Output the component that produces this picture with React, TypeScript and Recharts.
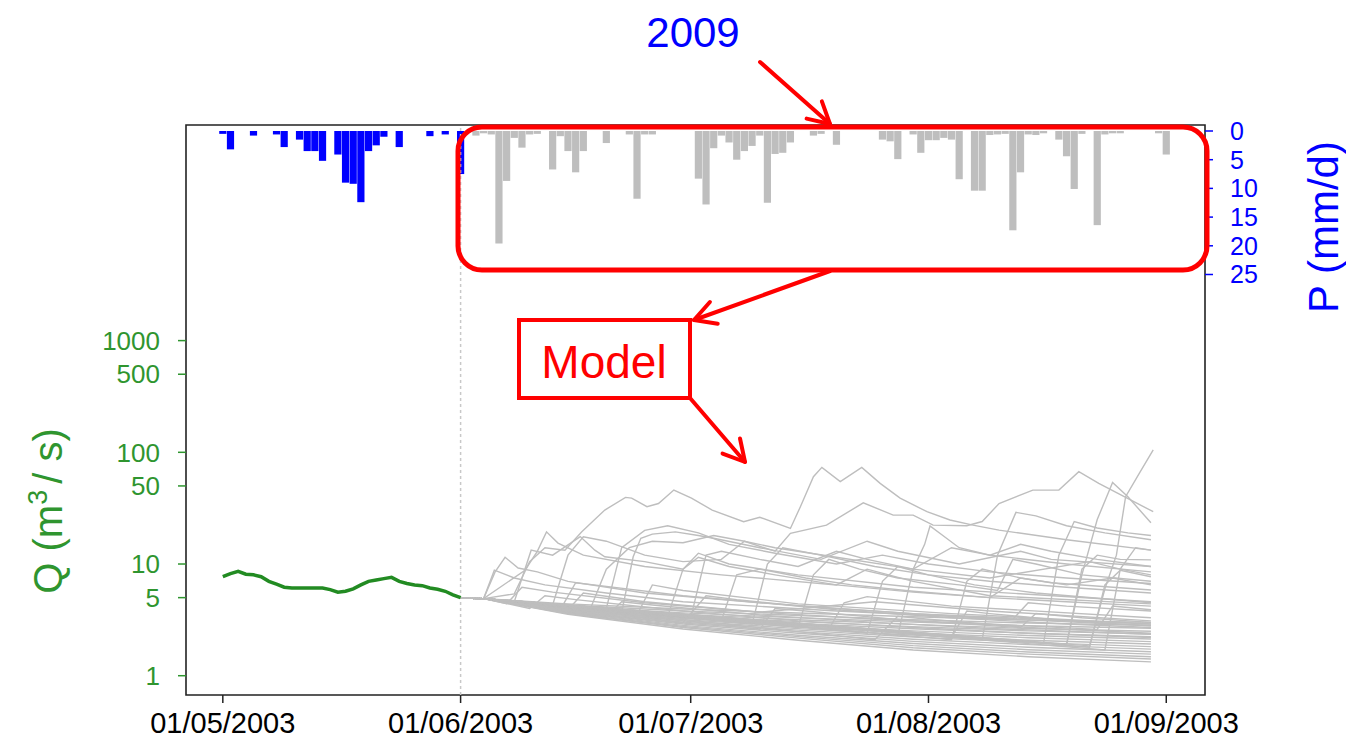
import React from 'react';
import { ComposedChart, Bar, Line, XAxis, YAxis, Cell, ReferenceLine, ReferenceArea } from 'recharts';

// x axis: days since 01/05/2003
const dateTicks = [0, 31, 61, 92, 123];
const dateLabels = ['01/05/2003', '01/06/2003', '01/07/2003', '01/08/2003', '01/09/2003'];
const qTicks = [1, 5, 10, 50, 100, 500, 1000];
const pTicks = [0, 5, 10, 15, 20, 25];

// observed rainfall, May 1 .. June 1 (mm/d)
const precipObserved = [
  0.5, 3.2, 0, 0, 0.8, 0, 0, 0.6, 2.8, 0, 1.5, 3.5, 3.5, 5.2, 0, 4.1,
  9.0, 9.2, 12.4, 3.5, 2.5, 1.0, 0, 2.8, 0, 0, 0, 0.9, 0, 0.6, 0, 7.5,
];

// 2009 rainfall used for the forecast, June 2 .. Sep 1 (mm/d)
const precip2009 = [
  0, 0.8, 0.4, 0.6, 19.6, 8.7, 1.2, 2.9, 0.6, 0.5, 0, 6.7, 0.9, 3.5, 7.2, 3.5,
  0, 0, 2.1, 0, 0, 0.6, 11.8, 0.6, 0.6, 0, 0, 0, 0, 0, 8.3, 12.8,
  3.0, 0.8, 2.0, 5.0, 3.5, 2.6, 0.8, 12.5, 4.0, 3.8, 2.0, 0, 0, 0.8, 0.5, 0,
  2.4, 0, 0, 0, 0, 0, 1.5, 1.8, 4.9, 0, 0.6, 3.8, 1.6, 1.6, 1.2, 1.5,
  8.4, 0, 10.4, 10.4, 0.7, 0.6, 0.5, 17.3, 7.2, 0.6, 0.7, 0.4, 0, 1.5, 4.4, 10.1,
  0.5, 0, 16.4, 0.6, 0.4, 0.4, 0, 0, 0, 0, 0.4, 4.1,
];

// observed discharge, May 1 .. June 1 (m3/s)
const observedQ = [
  7.7, 8.2, 8.6, 8.1, 8.0, 7.7, 7.0, 6.6, 6.2, 6.1, 6.1, 6.1, 6.1, 6.1, 5.9, 5.6,
  5.7, 6.0, 6.5, 7.0, 7.2, 7.4, 7.6, 7.0, 6.7, 6.5, 6.4, 6.1, 5.95, 5.7, 5.3, 5.0,
];

// model runs: [day, Q] points
const recessionRuns: number[][][] = [
  [[31, 4.95], [34, 4.9], [45, 3.55], [60, 2.62], [75, 2.08], [90, 1.7], [105, 1.48], [121, 1.33]],
  [[31, 4.95], [34, 4.9], [45, 3.6], [60, 2.7], [75, 2.17], [90, 1.78], [105, 1.56], [121, 1.41]],
  [[31, 4.95], [34, 4.9], [45, 3.62], [60, 2.76], [75, 2.24], [90, 1.86], [105, 1.63], [121, 1.48]],
  [[31, 4.95], [34, 4.9], [45, 3.68], [60, 2.82], [75, 2.3], [90, 1.94], [105, 1.71], [121, 1.56]],
  [[31, 4.95], [34, 4.9], [45, 3.72], [60, 2.9], [75, 2.4], [90, 2.03], [105, 1.8], [121, 1.64]],
  [[31, 4.95], [34, 4.9], [45, 3.76], [60, 2.96], [75, 2.48], [90, 2.12], [105, 1.9], [121, 1.73]],
  [[31, 4.95], [34, 4.9], [45, 3.8], [60, 3.02], [75, 2.56], [90, 2.22], [105, 1.99], [121, 1.82]],
  [[31, 4.95], [34, 4.9], [45, 3.85], [60, 3.1], [75, 2.64], [90, 2.31], [105, 2.08], [121, 1.92]],
  [[31, 4.95], [34, 4.9], [45, 3.9], [60, 3.18], [75, 2.74], [90, 2.42], [105, 2.19], [121, 2.02]],
  [[31, 4.95], [34, 4.9], [45, 3.95], [60, 3.25], [75, 2.84], [90, 2.52], [105, 2.29], [121, 2.13]],
  [[31, 4.95], [34, 4.9], [45, 4.0], [60, 3.34], [75, 2.94], [90, 2.63], [105, 2.4], [121, 2.24]],
  [[31, 4.95], [34, 4.9], [45, 4.06], [60, 3.44], [75, 3.05], [90, 2.75], [105, 2.52], [121, 2.36]],
  [[31, 4.95], [34, 4.9], [45, 4.12], [60, 3.54], [75, 3.17], [90, 2.88], [105, 2.65], [121, 2.5]],
  [[31, 4.95], [34, 4.9], [45, 4.2], [60, 3.65], [75, 3.3], [90, 3.02], [105, 2.8], [121, 2.66]],
  [[31, 4.95], [34, 4.9], [45, 4.3], [60, 3.8], [75, 3.46], [90, 3.18], [105, 2.96], [121, 2.82]],
  [[31, 4.95], [34, 4.9], [45, 4.4], [60, 3.96], [75, 3.64], [90, 3.37], [105, 3.15], [121, 3.0]],
];

const smallEventRuns: number[][][] = [
  [[31, 4.95], [34, 4.9], [40, 4.0], [42, 5.2], [46, 4.8], [60, 3.8], [75, 3.1], [90, 2.7], [105, 2.4], [121, 2.2]],
  [[31, 4.95], [34, 4.9], [50, 3.4], [52, 4.6], [56, 4.3], [70, 3.5], [85, 3.0], [100, 2.65], [121, 2.35]],
  [[31, 4.95], [34, 4.9], [60, 3.0], [63, 5.2], [67, 4.8], [80, 3.9], [95, 3.3], [110, 2.9], [121, 2.7]],
  [[31, 4.95], [34, 4.9], [70, 2.6], [72, 4.0], [76, 3.8], [90, 3.1], [104, 2.7], [106, 3.6], [112, 3.3], [121, 3.0]],
  [[31, 4.95], [34, 4.9], [85, 2.1], [88, 3.4], [92, 3.2], [105, 2.7], [121, 2.4]],
  [[31, 4.95], [34, 4.9], [95, 2.2], [97, 3.8], [100, 3.6], [110, 3.1], [121, 2.8]],
  [[31, 4.95], [34, 4.9], [37, 4.4], [39, 6.2], [43, 5.6], [55, 4.5], [70, 3.7], [85, 3.2], [100, 2.9], [114, 2.6], [116, 4.2], [121, 3.9]],
  [[31, 4.95], [34, 4.9], [44, 3.9], [46, 6.8], [50, 6.3], [60, 5.2], [75, 4.2], [90, 3.6], [103, 3.2], [105, 4.5], [110, 4.2], [121, 3.8]],
  [[31, 4.95], [34, 4.9], [54, 3.5], [56, 6.5], [60, 5.8], [75, 4.4], [95, 3.6], [121, 2.9]],
  [[31, 4.95], [34, 4.9], [45, 3.9], [47, 5.5], [55, 4.6], [70, 3.7], [85, 4.6], [100, 3.8], [121, 3.1]],
  [[31, 4.95], [34, 4.9], [79, 2.6], [81, 4.5], [84, 5.1], [95, 4.2], [121, 3.3]],
];

const stormRuns: number[][][] = [
  [[31, 4.95], [34, 4.9], [35.5, 8.5], [36.8, 11.5], [38.5, 9.2], [41, 8.5], [45, 7], [55, 5.5], [70, 4.5], [90, 3.6], [121, 2.9]],
  [[31, 4.95], [34, 4.9], [39.4, 8.8], [41, 13], [42.2, 19.4], [43.7, 15.4], [47, 12], [55, 9.5], [65, 8], [80, 6.5], [84, 9], [90, 7], [100, 5.2], [121, 4.4]],
  [[31, 4.95], [34, 4.9], [38, 5.4], [40, 10.5], [42, 14], [44.6, 13.3], [46.8, 19.4], [49.8, 30.4], [52.5, 39.5], [53.3, 38.9], [55.3, 32.6], [56.8, 34.8], [58.8, 45.9], [61.1, 38.9], [63.8, 30.4], [67.9, 23.9], [70, 26.2], [74, 20.8], [75.3, 32.6], [77, 60.5], [78.1, 73.3], [80.5, 54.6], [83.3, 73.3], [85.7, 52.7], [88.3, 38.9], [91.8, 29.4], [94.8, 24.8], [97.8, 22.3], [101.2, 20.1], [110, 16.5], [121, 13.3]],
  [[31, 4.95], [34, 4.9], [48, 4.1], [50, 9], [53, 14], [56, 16], [60, 15.5], [64, 18], [68, 16], [72, 13], [74, 18.8], [78.7, 22.3], [83.5, 35.3], [87.4, 27.4], [90, 27.4], [92.6, 22.3], [97, 22], [99, 24], [101.2, 34.8], [105.6, 45.9], [109, 45.9], [111.6, 67], [114.2, 52.7], [121.3, 29.4]],
  [[31, 4.95], [34, 4.9], [35.4, 8.8], [38, 7.5], [42, 6.5], [50, 5.5], [60, 4.6], [80, 3.8], [121, 2.8]],
  [[31, 4.95], [34, 4.9], [38, 4.6], [40.2, 13.3], [43, 12], [46.6, 17.6], [48.5, 13.3], [49.8, 11.6], [55, 10.5], [60, 9], [62, 12.5], [66, 10], [75, 8], [90, 6.2], [121, 4.6]],
  [[31, 4.95], [34, 4.9], [43, 4.3], [45, 12], [47, 17.5], [50, 16], [55, 12], [60, 10.5], [65, 11], [68, 16], [72, 14], [80, 11.5], [90, 9], [95, 14], [100, 12], [110, 10], [121, 8.5]],
  [[31, 4.95], [34, 4.9], [50, 4.0], [52, 14], [55, 20], [58, 22], [62, 19], [66, 15], [72, 12.5], [80, 10], [86, 12], [92, 10], [100, 8.5], [110, 7.5], [121, 6.7]],
  [[31, 4.95], [34, 4.9], [52, 3.7], [53.5, 11.6], [54.5, 17], [56, 18.5], [59, 19.4], [62, 18], [64, 17], [70, 14], [78, 11], [84, 16], [88, 13], [96, 10], [104, 13], [108, 11], [121, 9.5]],
  [[31, 4.95], [34, 4.9], [58, 3.4], [60, 9], [62, 11.5], [66, 9.5], [72, 8], [80, 6.5], [90, 5.6], [100, 5], [110, 4.6], [121, 4.2]],
  [[31, 4.95], [34, 4.9], [61, 3.3], [63, 12], [65, 13], [70, 11], [75, 9.5], [80, 13], [84, 11], [90, 9], [100, 7.5], [113, 10.5], [117, 9], [121, 8]],
  [[31, 4.95], [34, 4.9], [65, 3.1], [67, 8], [70, 9], [76, 7.5], [82, 6.5], [90, 5.7], [100, 5], [104, 7.5], [108, 6.8], [121, 5.85]],
  [[31, 4.95], [34, 4.9], [69, 2.9], [71, 10], [73, 14], [78, 12], [85, 9.5], [92, 8], [100, 7], [110, 6.2], [121, 5.5]],
  [[31, 4.95], [34, 4.9], [75, 2.7], [77, 8], [79, 11], [83, 9], [88, 7.5], [96, 6.5], [101, 5.8], [103, 11], [106, 10], [112, 8], [121, 7]],
  [[31, 4.95], [34, 4.9], [84, 2.4], [86, 7], [88, 9.5], [92, 8], [98, 6.5], [106, 5.5], [121, 4.5]],
  [[31, 4.95], [34, 4.9], [88, 2.3], [90, 9], [91.5, 15], [92.2, 21.9], [96, 14], [100, 12], [104, 15], [108, 13], [114, 11], [121, 9.5]],
  [[31, 4.95], [34, 4.9], [95, 2.1], [97, 7], [99, 9], [104, 7.5], [110, 6.5], [116, 7.5], [121, 6.5]],
  [[31, 4.95], [34, 4.9], [99, 2.1], [101, 12], [103.4, 29], [106, 27], [110, 22], [115, 19], [121, 16.5]],
  [[31, 4.95], [34, 4.9], [107, 1.95], [109, 12], [111, 24], [114, 21], [118, 19], [121, 18]],
  [[31, 4.95], [34, 4.9], [110, 1.9], [112, 8], [114, 25], [116, 53.7], [118, 40], [121, 23.4]],
  [[31, 4.95], [34, 4.9], [113, 1.85], [115, 6], [116.5, 12], [117.7, 40], [119.5, 65], [121.3, 105]],
  [[31, 4.95], [34, 4.9], [110, 1.9], [112, 9], [114, 12], [117, 11], [121, 10.9]],
  [[31, 4.95], [34, 4.9], [113, 1.8], [115, 6.5], [117, 8.8], [121, 7.7]],
  [[31, 4.95], [34, 4.9], [115, 1.7], [117, 9], [119, 14], [121, 13.3]],
];

const modelRuns = [...recessionRuns, ...smallEventRuns, ...stormRuns];

const precipAll = [...precipObserved, ...precip2009];
const data = precipAll.map((p, day) => ({
  day,
  p,
  q: day < observedQ.length ? observedQ[day] : undefined,
}));

const FONT = '"Liberation Sans", Arial, sans-serif';
const GREEN = '#2f952f';
const BLUE = '#0000ff';
const RED = '#ff0000';
const GRAY = '#bebebe';

// daily rain bar, centred on its day, hanging from the top axis
function RainBar(props: any) {
  const { x, y, width, height, fill } = props;
  if (!height) return null;
  const cx = x + width / 2;
  const top = Math.min(y, y + height);
  return <rect x={cx - 3.6} y={top} width={7.2} height={Math.abs(height)} fill={fill} />;
}

function Arrow({ x1, y1, x2, y2 }: { x1: number; y1: number; x2: number; y2: number }) {
  const a = Math.atan2(y1 - y2, x1 - x2);
  const len = 24;
  const w1 = [x2 + len * Math.cos(a + 0.5), y2 + len * Math.sin(a + 0.5)];
  const w2 = [x2 + len * Math.cos(a - 0.5), y2 + len * Math.sin(a - 0.5)];
  return (
    <g stroke={RED} strokeWidth={4} strokeLinecap="round" fill="none">
      <line x1={x1} y1={y1} x2={x2} y2={y2} />
      <polyline points={`${w1[0]},${w1[1]} ${x2},${y2} ${w2[0]},${w2[1]}`} strokeLinejoin="round" />
    </g>
  );
}

export default function App() {
  return (
    <div style={{ position: 'absolute', left: 0, top: 0, width: 1346, height: 739, background: '#fff' }}>
      <ComposedChart
        width={1346}
        height={739}
        data={data}
        margin={{ top: 125, right: 61, bottom: 0, left: 86 }}
      >
        <XAxis
          dataKey="day"
          type="number"
          domain={[-4.8, 128.05]}
          allowDataOverflow
          ticks={dateTicks}
          interval={0}
          tickFormatter={(v: number) => dateLabels[dateTicks.indexOf(v)] ?? ''}
          tick={{ fill: '#000', fontSize: 29, fontFamily: FONT }}
          tickLine={{ stroke: '#222', strokeWidth: 1.5 }}
          tickSize={8}
          tickMargin={9}
          axisLine={false}
          height={44}
        />
        <YAxis
          yAxisId="q"
          scale="log"
          domain={[0.672, 85150]}
          allowDataOverflow
          ticks={qTicks}
          interval={0}
          tick={{ fill: GREEN, fontSize: 26, fontFamily: FONT }}
          tickLine={{ stroke: GREEN, strokeWidth: 1.5 }}
          tickSize={8}
          tickMargin={18}
          axisLine={false}
          width={100}
        />
        <YAxis
          yAxisId="p"
          orientation="right"
          reversed
          domain={[-1.045, 98.26]}
          allowDataOverflow
          ticks={pTicks}
          interval={0}
          tick={{ fill: BLUE, fontSize: 25, fontFamily: FONT, textAnchor: 'start' }}
          tickLine={{ stroke: BLUE, strokeWidth: 1.5 }}
          tickSize={8}
          tickMargin={17}
          axisLine={false}
          width={80}
        />
        <Bar yAxisId="p" dataKey="p" shape={RainBar} isAnimationActive={false}>
          {data.map((d) => (
            <Cell key={d.day} fill={d.day < precipObserved.length ? BLUE : GRAY} />
          ))}
        </Bar>
        <ReferenceLine yAxisId="q" x={31} stroke="#c8c8c8" strokeWidth={1.5} strokeDasharray="3 3" />
        {modelRuns.map((run, i) => (
          <Line
            key={i}
            yAxisId="q"
            data={run.map(([day, q]) => ({ day, q }))}
            dataKey="q"
            type="linear"
            stroke={GRAY}
            strokeWidth={1.4}
            dot={false}
            isAnimationActive={false}
          />
        ))}
        <Line
          yAxisId="q"
          dataKey="q"
          type="linear"
          stroke="#228b22"
          strokeWidth={3.5}
          dot={false}
          isAnimationActive={false}
        />
        <ReferenceArea
          yAxisId="q"
          x1={-4.8}
          x2={128.05}
          y1={0.672}
          y2={85150}
          fill="none"
          fillOpacity={0}
          stroke="#222"
          strokeWidth={1.6}
          ifOverflow="visible"
        />
      </ComposedChart>
      <svg
        width={1346}
        height={739}
        style={{ position: 'absolute', left: 0, top: 0, pointerEvents: 'none' }}
        fontFamily={FONT}
      >
        <text transform="translate(62,511) rotate(-90)" textAnchor="middle" fontSize={40} fill={GREEN}>
          Q (m<tspan dy={-15} fontSize={27}>3</tspan>
          <tspan dy={15} dx={6}>/ s)</tspan>
        </text>
        <text transform="translate(1338,227) rotate(-90)" textAnchor="middle" fontSize={42} fill={BLUE}>
          P (mm/d)
        </text>
        <text x={693} y={47} textAnchor="middle" fontSize={42} fill={BLUE}>2009</text>
        <rect x={458} y={127} width={749} height={143} rx={24} ry={24} fill="none" stroke={RED} strokeWidth={5} />
        <Arrow x1={760} y1={62} x2={830} y2={124} />
        <Arrow x1={830} y1={271} x2={694} y2={320} />
        <rect x={519} y={320} width={171} height={78} fill="#fff" stroke={RED} strokeWidth={4} />
        <text x={604} y={378} textAnchor="middle" fontSize={46} fill={RED}>Model</text>
        <Arrow x1={690} y1={398} x2={745} y2={462} />
      </svg>
    </div>
  );
}
